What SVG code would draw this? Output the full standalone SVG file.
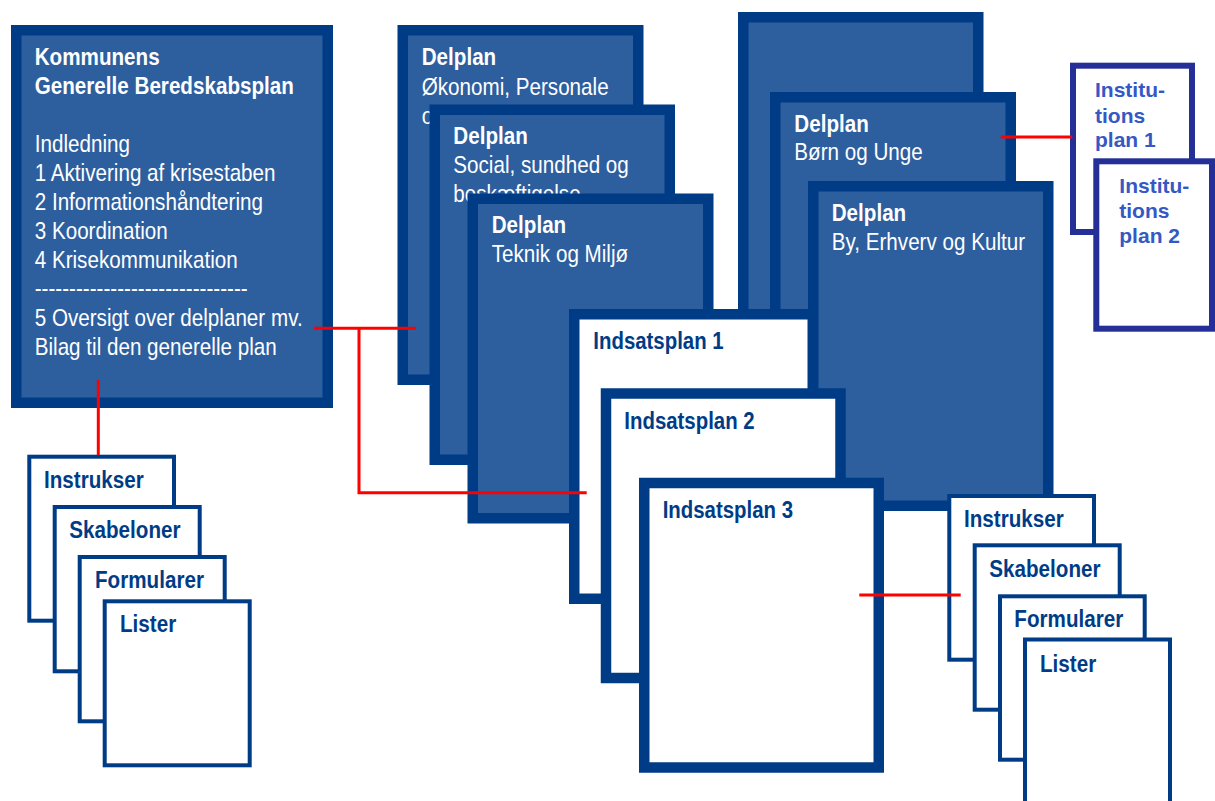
<svg xmlns="http://www.w3.org/2000/svg" width="1215" height="801" viewBox="0 0 1215 801">
<style>
.big{fill:#2D5E9E;stroke:#003C86;stroke-width:10.5}
.ind{fill:#FFFFFF;stroke:#003C86;stroke-width:10.5}
.doc{fill:#FFFFFF;stroke:#003C86;stroke-width:4}
.inst{fill:#FFFFFF;stroke:#252F98;stroke-width:6}
.wt{font-family:"Liberation Sans",Arial,sans-serif;font-size:24px;fill:#FFFFFF}
.dt{font-family:"Liberation Sans",Arial,sans-serif;font-size:24px;font-weight:bold;fill:#003C86}
.it{font-family:"Liberation Sans",Arial,sans-serif;font-size:21px;font-weight:bold;fill:#3558C4}
.b{font-weight:bold}
.red{fill:none;stroke:#FF0000;stroke-width:3}
</style>
<rect width="1215" height="801" fill="#FFFFFF"/>

<g id="main">
<rect class="big" x="16.25" y="30.25" width="311.5" height="372.5"/>
<text class="wt" transform="translate(34.7,65) scale(0.86,1)">
<tspan class="b" x="0" y="0">Kommunens</tspan>
<tspan class="b" x="0" y="29">Generelle Beredskabsplan</tspan>
<tspan x="0" y="87">Indledning</tspan>
<tspan x="0" y="116">1 Aktivering af krisestaben</tspan>
<tspan x="0" y="145">2 Informationshåndtering</tspan>
<tspan x="0" y="174">3 Koordination</tspan>
<tspan x="0" y="203">4 Krisekommunikation</tspan>
<tspan x="0" y="231">-------------------------------</tspan>
<tspan x="0" y="261">5 Oversigt over delplaner mv.</tspan>
<tspan x="0" y="290">Bilag til den generelle plan</tspan>
</text>
</g>

<g id="delplan-okonomi">
<rect class="big" x="402.75" y="30.25" width="235.5" height="349.5"/>
<text class="wt" transform="translate(421.7,65) scale(0.86,1)">
<tspan class="b" x="0" y="0">Delplan</tspan>
<tspan x="0" y="30">Økonomi, Personale</tspan>
<tspan x="0" y="59">o</tspan>
</text>
</g>

<g id="delplan-social">
<rect class="big" x="434.75" y="109.75" width="235" height="350"/>
<text class="wt" transform="translate(453.3,144.3) scale(0.86,1)">
<tspan class="b" x="0" y="0">Delplan</tspan>
<tspan x="0" y="29">Social, sundhed og</tspan>
<tspan x="0" y="58">beskæftigelse</tspan>
</text>
</g>

<g id="delplan-teknik">
<rect class="big" x="472.75" y="198.75" width="235.5" height="319.5"/>
<text class="wt" transform="translate(491.7,232.7) scale(0.86,1)">
<tspan class="b" x="0" y="0">Delplan</tspan>
<tspan x="0" y="29">Teknik og Miljø</tspan>
</text>
</g>

<g id="delplan-blank">
<rect class="big" x="743.25" y="17.25" width="235" height="420"/>
</g>

<g id="delplan-born">
<rect class="big" x="775.25" y="97.25" width="235.5" height="380"/>
<text class="wt" transform="translate(794.3,131.7) scale(0.86,1)">
<tspan class="b" x="0" y="0">Delplan</tspan>
<tspan x="0" y="28.5">Børn og Unge</tspan>
</text>
</g>

<g id="delplan-by">
<rect class="big" x="813.25" y="186.25" width="235" height="319.5"/>
<text class="wt" transform="translate(831.7,220.7) scale(0.86,1)">
<tspan class="b" x="0" y="0">Delplan</tspan>
<tspan x="0" y="29">By, Erhverv og Kultur</tspan>
</text>
</g>

<g id="indsatsplan-1">
<rect class="ind" x="574.25" y="314.25" width="238.5" height="284.5"/>
<text class="dt" transform="translate(593.3,349.3) scale(0.85,1)">Indsatsplan 1</text>
</g>

<g id="indsatsplan-2">
<rect class="ind" x="606" y="393.5" width="234.5" height="284.5"/>
<text class="dt" transform="translate(624.3,429.3) scale(0.85,1)">Indsatsplan 2</text>
</g>

<g id="indsatsplan-3">
<rect class="ind" x="644.25" y="483" width="234.5" height="284.5"/>
<text class="dt" transform="translate(662.7,518.3) scale(0.85,1)">Indsatsplan 3</text>
</g>

<g id="r-instrukser">
<rect class="doc" x="949.3" y="496" width="144.7" height="163.7"/>
<text class="dt" transform="translate(964,526.7) scale(0.86,1)">Instrukser</text>
</g>
<g id="r-skabeloner">
<rect class="doc" x="974.7" y="545.3" width="145" height="164.4"/>
<text class="dt" transform="translate(989.3,576.7) scale(0.86,1)">Skabeloner</text>
</g>
<g id="r-formularer">
<rect class="doc" x="1000" y="596.3" width="144.7" height="163.4"/>
<text class="dt" transform="translate(1014.3,626.7) scale(0.86,1)">Formularer</text>
</g>
<g id="r-lister">
<rect class="doc" x="1025" y="639.5" width="145" height="175"/>
<text class="dt" transform="translate(1040,671.7) scale(0.86,1)">Lister</text>
</g>

<g id="institutionsplan-1">
<rect class="inst" x="1073" y="65.7" width="119" height="166.3"/>
<text class="it">
<tspan x="1095" y="97.3">Institu-</tspan>
<tspan x="1095" y="122.7">tions</tspan>
<tspan x="1095" y="147.3">plan 1</tspan>
</text>
</g>
<g id="institutionsplan-2">
<rect class="inst" x="1096.3" y="161.3" width="115.7" height="167.4"/>
<text class="it">
<tspan x="1119.3" y="193.3">Institu-</tspan>
<tspan x="1119.3" y="218.3">tions</tspan>
<tspan x="1119.3" y="243.3">plan 2</tspan>
</text>
</g>

<g id="l-instrukser">
<rect class="doc" x="29.3" y="456.7" width="144.7" height="164"/>
<text class="dt" transform="translate(44,488.3) scale(0.86,1)">Instrukser</text>
</g>
<g id="l-skabeloner">
<rect class="doc" x="54.7" y="507" width="145" height="164.3"/>
<text class="dt" transform="translate(69.3,538.3) scale(0.86,1)">Skabeloner</text>
</g>
<g id="l-formularer">
<rect class="doc" x="79.7" y="557" width="145" height="164.3"/>
<text class="dt" transform="translate(95,588.3) scale(0.86,1)">Formularer</text>
</g>
<g id="l-lister">
<rect class="doc" x="104.7" y="601.3" width="145" height="164"/>
<text class="dt" transform="translate(120,631.7) scale(0.86,1)">Lister</text>
</g>

<g id="connectors">
<path class="red" d="M314,328.3 H415.7"/>
<path class="red" d="M359,328.3 V492.7 H586.7"/>
<path class="red" d="M98.3,380 V455"/>
<path class="red" d="M1000.7,137 H1072.3"/>
<path class="red" d="M859.3,595 H960.7"/>
</g>
</svg>
